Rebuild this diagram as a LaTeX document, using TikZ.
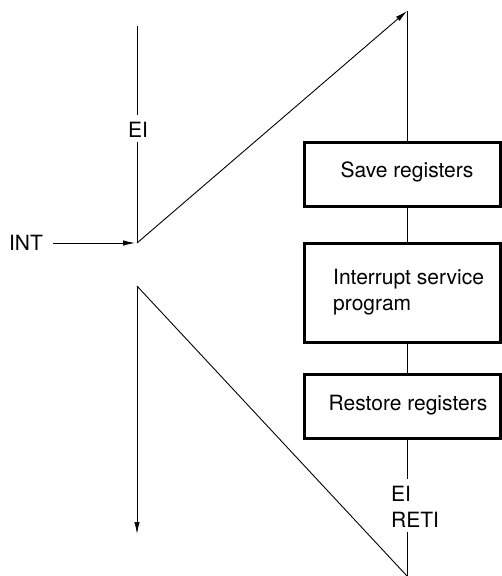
\documentclass[tikz,border=0pt]{standalone}
\usepackage{fontspec}
\setmainfont{TeX Gyre Heros}
\usetikzlibrary{arrows.meta}
\begin{document}
\begin{tikzpicture}[x=1pt,y=-1pt,
  every node/.style={font=\fontsize{21}{26}\selectfont, inner sep=0pt},
  thin line/.style={line width=0.9pt},
  boxstyle/.style={draw, line width=2.2pt, minimum width=196pt, inner sep=0pt},
  arr/.style={thin line, -{Latex[length=12pt,width=5.5pt]}},
  lbl/.style={align=left}
]
\useasboundingbox (0,0) rectangle (502,576);
% left spine
\coordinate (ltop) at (137,26);
\coordinate (jin) at (137,243);
\coordinate (jout) at (137,286);
\coordinate (lend) at (137,534);
\node (ei1) at (138,130) {EI};
\node (int) at (26,243) {INT};
% right spine
\coordinate (rtop) at (407,11);
\coordinate (rbot) at (407,576);
\coordinate (g1) at (407,479);
\coordinate (g2) at (407,532);
% boxes
\node[boxstyle, minimum height=64pt] (save) at (402.5,174.5) {};
\node[boxstyle, minimum height=99pt] (isr) at (402.5,293) {};
\node[boxstyle, minimum height=64pt] (rest) at (402.5,406.5) {};
\node (tsave) at (407,172) {Save registers};
\node[lbl, anchor=west] (tisr) at (333,292) {Interrupt service\\program};
\node (trest) at (408,405) {Restore registers};
\node[lbl, anchor=west] (teir) at (391,507) {EI\\RETI};
% connectors
\draw[thin line] (ltop) -- (137,115);
\draw[thin line] (137,142) -- (jin);
\draw[arr] (int.east) ++(10,0) -- ([xshift=-2pt]jin);
\draw[arr] (jin) -- (rtop);
\draw[thin line] (rtop) -- (rtop |- save.north);
\draw[thin line] (rtop |- save.south) -- (rtop |- isr.north);
\draw[thin line] (rtop |- isr.south) -- (rtop |- rest.north);
\draw[thin line] (rtop |- rest.south) -- (g1);
\draw[thin line] (g2) -- (rbot);
\draw[thin line] (jout) -- (rbot);
\draw[arr] (jout) -- (lend);
\end{tikzpicture}
\end{document}
